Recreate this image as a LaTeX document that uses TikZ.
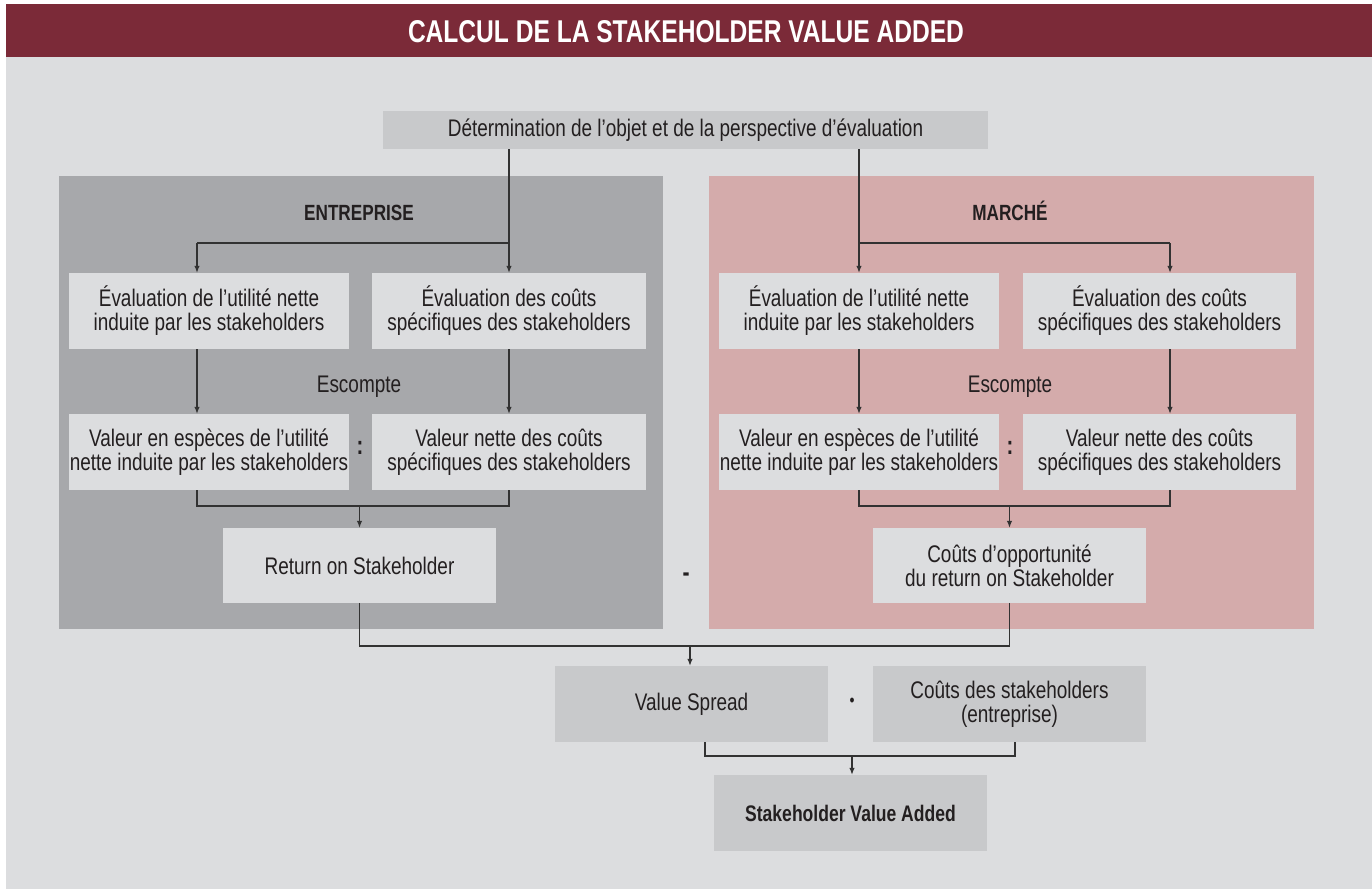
\documentclass[tikz,border=0pt]{standalone}
\usepackage{fontspec}
\setmainfont[FakeStretch=0.79,BoldFeatures={FakeStretch=0.78}]{Liberation Sans}
\usetikzlibrary{arrows.meta,calc}
\definecolor{hdr}{RGB}{123,42,56}
\definecolor{bg}{RGB}{220,221,223}
\definecolor{mid}{RGB}{200,201,203}
\definecolor{entp}{RGB}{167,168,171}
\definecolor{mkt}{RGB}{212,171,171}
\definecolor{ink}{RGB}{35,31,32}
\definecolor{wire}{RGB}{50,50,50}
\tikzset{
  txt/.style={font=\fontsize{24}{24}\selectfont, text=ink, align=center, inner sep=0pt},
  boldtxt/.style={font=\fontsize{22.5}{23.5}\selectfont\bfseries, text=ink, align=center, inner sep=0pt},
  box/.style={txt, fill=bg, minimum height=76pt},
  midbox/.style={txt, fill=mid, minimum height=76pt, minimum width=273pt},
  panel/.style={inner sep=0pt, minimum height=453pt},
  wireline/.style={draw=wire, line width=1.2pt},
  arr/.style={wireline, -{Latex[length=7pt,width=5.5pt]}},
}
\begin{document}
\begin{tikzpicture}[x=1pt,y=-1pt]
\useasboundingbox (0,0) rectangle (1372,889);
\fill[white] (0,0) rectangle (1372,889);
\fill[bg] (6,4) rectangle (1372,889);
\fill[hdr] (6,4) rectangle (1372,57);
\node[font=\fontsize{31.5}{31.5}\selectfont\bfseries, text=white, inner sep=0pt] (title) at (686,32) {CALCUL DE LA STAKEHOLDER VALUE ADDED};

% top node
\node[txt, fill=mid, minimum width=605pt, minimum height=38pt] (top) at (685.5,130) {Détermination de l’objet et de la perspective d’évaluation};

% panels
\node[panel, fill=entp, minimum width=604pt] (pE) at (361,402.5) {};
\node[panel, fill=mkt, minimum width=605pt] (pM) at (1011.5,402.5) {};
\node[boldtxt, font=\fontsize{22}{22}\selectfont\bfseries] (tE) at (359,213) {ENTREPRISE};
\node[boldtxt, font=\fontsize{22}{22}\selectfont\bfseries] (tM) at (1010,211) {MARCHÉ};

% entreprise boxes
\node[box, minimum width=280pt] (eA1) at (209,311) {Évaluation de l’utilité nette\\induite par les stakeholders};
\node[box, minimum width=274pt] (eB1) at (509,311) {Évaluation des coûts\\spécifiques des stakeholders};
\node[txt] (escE) at (359,387) {Escompte};
\node[box, minimum width=280pt] (eA2) at (209,452) {Valeur en espèces de l’utilité\\nette induite par les stakeholders};
\node[box, minimum width=274pt] (eB2) at (509,452) {Valeur nette des coûts\\spécifiques des stakeholders};
\node[boldtxt, font=\fontsize{26}{26}\selectfont\bfseries] (colE) at (360,448) {:};
\node[box, minimum width=273pt, minimum height=75pt] (eR) at (359.5,565.5) {Return on Stakeholder};

% marche boxes
\node[box, minimum width=280pt] (mA1) at (859,311) {Évaluation de l’utilité nette\\induite par les stakeholders};
\node[box, minimum width=273pt] (mB1) at (1159.5,311) {Évaluation des coûts\\spécifiques des stakeholders};
\node[txt] (escM) at (1010,387) {Escompte};
\node[box, minimum width=280pt] (mA2) at (859,452) {Valeur en espèces de l’utilité\\nette induite par les stakeholders};
\node[box, minimum width=273pt] (mB2) at (1159.5,452) {Valeur nette des coûts\\spécifiques des stakeholders};
\node[boldtxt, font=\fontsize{26}{26}\selectfont\bfseries] (colM) at (1010,448) {:};
\node[box, minimum width=273pt, minimum height=75pt] (mR) at (1009.5,565.5) {Coûts d’opportunité\\du return on Stakeholder};

\node[boldtxt, font=\fontsize{27}{27}\selectfont\bfseries] (minus) at (686,577) {-};

% bottom
\node[midbox] (vs) at (691.5,704) {Value Spread};
\node[midbox] (cs) at (1009.5,704) {Coûts des stakeholders\\(entreprise)};
\node[txt, font=\fontsize{18}{18}\selectfont] (dot) at (852,702) {•};
\node[midbox, font=\fontsize{22.5}{23.5}\selectfont\bfseries] (sva) at (850.5,813) {Stakeholder Value Added};

% levels
\coordinate (h1) at (0,243);
\coordinate (h2) at (0,506);
\coordinate (h3) at (0,646);
\coordinate (h4) at (0,756);

% entreprise connectors
\draw[wireline] (top.south -| eB1.north) |- ([xshift=-12pt]eA1.north |- h1);
\draw[arr] ([xshift=-12pt]eA1.north |- h1) -- ([xshift=-12pt]eA1.north);
\draw[arr] (eB1.north |- h1) -- (eB1.north);
\draw[arr] ([xshift=-12pt]eA1.south) -- ([xshift=-12pt]eA2.north);
\draw[arr] (eB1.south) -- (eB2.north);
\draw[wireline] ([xshift=-12pt]eA2.south) |- (eB2.south |- h2) -- (eB2.south);
\draw[arr] (eR.north |- h2) -- (eR.north);

% marche connectors
\draw[wireline] (top.south -| mA1.north) |- ([xshift=10.5pt]mB1.north |- h1);
\draw[arr] (mA1.north |- h1) -- (mA1.north);
\draw[arr] ([xshift=10.5pt]mB1.north |- h1) -- ([xshift=10.5pt]mB1.north);
\draw[arr] (mA1.south) -- (mA2.north);
\draw[arr] ([xshift=10.5pt]mB1.south) -- ([xshift=10.5pt]mB2.north);
\draw[wireline] (mA2.south) |- ([xshift=10.5pt]mB2.south |- h2) -- ([xshift=10.5pt]mB2.south);
\draw[arr] (mR.north |- h2) -- (mR.north);

% bottom connectors
\draw[wireline] (eR.south) |- (mR.south |- h3) -- (mR.south);
\draw[arr] ([xshift=-1.5pt]vs.north |- h3) -- ([xshift=-1.5pt]vs.north);
\draw[wireline] ([xshift=13.5pt]vs.south) |- ([xshift=5.5pt]cs.south |- h4) -- ([xshift=5.5pt]cs.south);
\draw[arr] ([xshift=1.5pt]sva.north |- h4) -- ([xshift=1.5pt]sva.north);
\end{tikzpicture}
\end{document}
